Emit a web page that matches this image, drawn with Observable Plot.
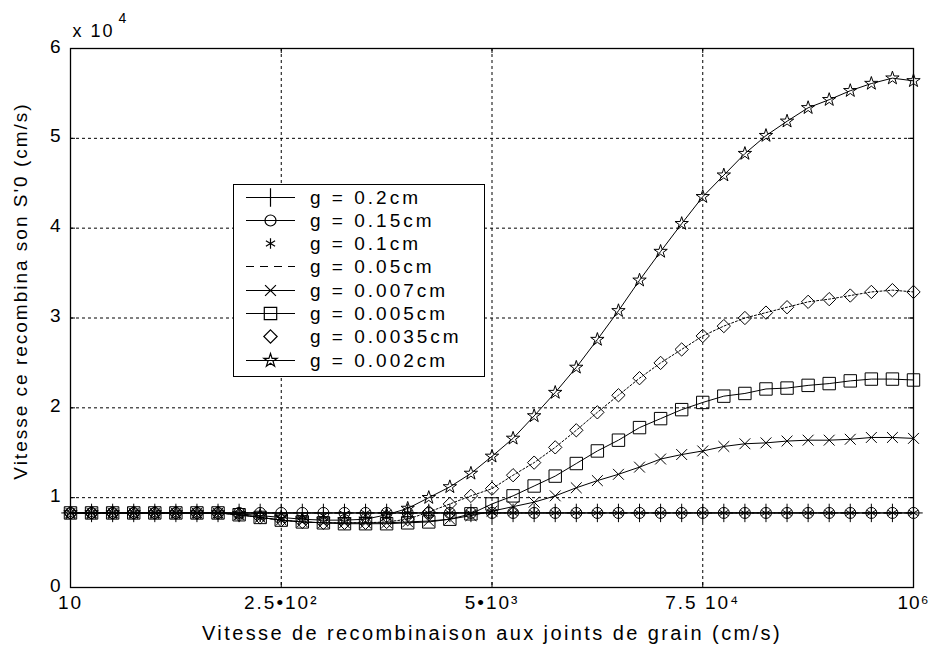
<!DOCTYPE html>
<html><head><meta charset="utf-8">
<script src="https://cdn.jsdelivr.net/npm/d3@7"></script>
<script src="https://cdn.jsdelivr.net/npm/@observablehq/plot@0.6"></script>
<style>
body{margin:0;background:#fff;}
#wrap{position:relative;width:929px;height:646px;font-family:"Liberation Sans",Arial,sans-serif;}
#wrap svg text{letter-spacing:2px;}
#legend{position:absolute;left:233px;top:184px;width:252px;height:193px;border:1.3px solid #000;background:#fff;box-sizing:border-box;}
.row{position:absolute;left:0;height:23px;width:250px;}
.row svg{position:absolute;left:0;top:0;}
.row span{position:absolute;left:76px;top:0;line-height:23px;font-size:19px;letter-spacing:3px;white-space:nowrap;color:#000;}
</style>
</head><body>
<div id="wrap"></div>
<script>
// x positions (sample index) and tick labels
const xIndex = [0,1,2,3,4,5,6,7,8,9,10,11,12,13,14,15,16,17,18,19,20,21,22,23,24,25,26,27,28,29,30,31,32,33,34,35,36,37,38,39,40];
const xTickPos = [0,10,20,30,40];
const xTickLabels = ["10","2.5•10²","5•10³","7.5 10⁴","10⁶"];
const yTicks = [0,1,2,3,4,5,6];
const gLabels = ["g = 0.2cm","g = 0.15cm","g = 0.1cm","g = 0.05cm","g = 0.007cm","g = 0.005cm","g = 0.0035cm","g = 0.002cm"];

// S'0 values (x 10^4 cm/s)
const g020 = [0.83,0.83,0.83,0.83,0.83,0.83,0.83,0.83,0.83,0.83,0.83,0.83,0.83,0.83,0.83,0.83,0.83,0.83,0.83,0.83,0.83,0.83,0.83,0.83,0.83,0.83,0.83,0.83,0.83,0.83,0.83,0.83,0.83,0.83,0.83,0.83,0.83,0.83,0.83,0.83,0.83];
const g015 = [0.83,0.83,0.83,0.83,0.83,0.83,0.83,0.83,0.83,0.83,0.83,0.83,0.83,0.83,0.83,0.83,0.83,0.83,0.83,0.83,0.83,0.83,0.83,0.83,0.83,0.83,0.83,0.83,0.83,0.83,0.83,0.83,0.83,0.83,0.83,0.83,0.83,0.83,0.83,0.83,0.83];
const g010 = [0.83,0.83,0.83,0.83,0.83,0.83,0.83,0.83,0.81,0.79,0.77,0.78,0.80,0.82,0.83,0.83,0.83,0.83,0.83,0.83,0.83,0.83,0.83,0.83,0.83,0.83,0.83,0.83,0.83,0.83,0.83,0.83,0.83,0.83,0.83,0.83,0.83,0.83,0.83,0.83,0.83];
const g005 = [0.83,0.83,0.83,0.83,0.83,0.83,0.83,0.83,0.83,0.83,0.83,0.83,0.83,0.83,0.83,0.83,0.83,0.83,0.83,0.83,0.83,0.83,0.83,0.83,0.83,0.83,0.83,0.83,0.83,0.83,0.83,0.83,0.83,0.83,0.83,0.83,0.83,0.83,0.83,0.83,0.83];
const g0007 = [0.83,0.83,0.83,0.83,0.83,0.83,0.83,0.83,0.81,0.78,0.75,0.73,0.72,0.72,0.72,0.72,0.73,0.74,0.76,0.80,0.85,0.90,0.95,1.02,1.11,1.19,1.26,1.34,1.43,1.48,1.52,1.57,1.60,1.61,1.63,1.64,1.64,1.65,1.67,1.67,1.66];
const g0005 = [0.83,0.83,0.83,0.83,0.83,0.83,0.83,0.83,0.81,0.78,0.75,0.73,0.72,0.71,0.71,0.71,0.72,0.73,0.76,0.82,0.93,1.02,1.13,1.24,1.38,1.52,1.64,1.78,1.88,1.98,2.06,2.13,2.16,2.21,2.22,2.25,2.27,2.30,2.32,2.32,2.31];
const g00035 = [0.83,0.83,0.83,0.83,0.83,0.83,0.83,0.83,0.81,0.78,0.75,0.73,0.72,0.72,0.72,0.73,0.76,0.84,0.93,1.02,1.10,1.25,1.39,1.56,1.75,1.95,2.14,2.33,2.50,2.65,2.80,2.91,3.00,3.06,3.12,3.18,3.21,3.25,3.29,3.31,3.29];
const g0002 = [0.83,0.83,0.83,0.83,0.83,0.83,0.83,0.83,0.82,0.80,0.78,0.76,0.75,0.75,0.76,0.81,0.88,1.00,1.12,1.27,1.46,1.66,1.91,2.17,2.45,2.76,3.08,3.42,3.74,4.05,4.35,4.59,4.83,5.03,5.19,5.34,5.43,5.53,5.61,5.67,5.64];

const seriesValues = [g020,g015,g010,g005,g0007,g0005,g00035,g0002];

// styles (not data)
const styles = [
  {sym:"plus", r:6, line:"solid", legendLine:"solid"},
  {sym:"circle", r:5.5, line:"solid", legendLine:"solid"},
  {sym:"asterisk", r:5, line:"none", legendLine:"none"},
  {sym:null, r:0, line:"dashed", legendLine:"dashed"},
  {sym:"times", r:5, line:"solid", legendLine:"solid"},
  {sym:"square", r:7, line:"solid", legendLine:"solid"},
  {sym:"diamond2", r:6, line:"dotted", legendLine:"none"},
  {sym:"star", r:4.2, line:"solid", legendLine:"solid"}
];
const dashOf = {solid:null, dashed:"6,5", dotted:"2,2"};

const marks = [];
marks.push(Plot.gridX(xTickPos, {x:d=>d, stroke:"#000", strokeOpacity:1, strokeDasharray:"3,3", strokeWidth:1}));
marks.push(Plot.gridY(yTicks.filter(d=>d>0 && d<6), {y:d=>d, stroke:"#000", strokeOpacity:1, strokeDasharray:"3,3", strokeWidth:1}));
// inward ticks
marks.push(Plot.tickX(xTickPos, {x:d=>d, stroke:"#000", insetTop:534}));
marks.push(Plot.tickX(xTickPos, {x:d=>d, stroke:"#000", insetBottom:534}));
marks.push(Plot.tickY(yTicks, {y:d=>d, stroke:"#000", insetRight:838}));
marks.push(Plot.tickY(yTicks, {y:d=>d, stroke:"#000", insetLeft:838}));

seriesValues.forEach((vals, k) => {
  const st = styles[k];
  const rows = xIndex.map((x,i) => ({x, y: vals[i]}));
  if (st.line !== "none") {
    marks.push(Plot.line(rows, {x:"x", y:"y", stroke:"#000", strokeWidth:1, strokeDasharray: dashOf[st.line]}));
  }
  if (st.sym) {
    marks.push(Plot.dot(rows, {x:"x", y:"y", symbol: st.sym, r: st.r, stroke:"#000", fill:"none", strokeWidth:1}));
  }
});

marks.push(Plot.frame({stroke:"#000", strokeWidth:1.3}));
const labelMap = new Map(xTickPos.map((p,i)=>[p, xTickLabels[i]]));
marks.push(Plot.axisX(xTickPos, {tickSize:0, tickPadding:8, tickFormat:d=>labelMap.get(d), label:null, fontSize:19}));
marks.push(Plot.axisY(yTicks, {tickSize:0, tickPadding:8, tickFormat:d=>String(d), label:null, fontSize:19, dy:-2}));
marks.push(Plot.text(["Vitesse de recombinaison aux joints de grain (cm/s)"], {text:d=>d, frameAnchor:"bottom", dy:46, lineAnchor:"middle", fontSize:20}));
marks.push(Plot.text(["Vitesse ce recombina son S'0 (cm/s)"], {text:d=>d, frameAnchor:"left", textAnchor:"middle", dx:-50, dy:-27, rotate:-90, lineAnchor:"middle", fontSize:19}));
marks.push(Plot.text(["x 10"], {text:d=>d, frameAnchor:"top-left", textAnchor:"start", dx:2, dy:-17, lineAnchor:"middle", fontSize:18}));
marks.push(Plot.text(["4"], {text:d=>d, frameAnchor:"top-left", textAnchor:"start", dx:48, dy:-30, lineAnchor:"middle", fontSize:14}));

const chart = Plot.plot({
  width:929, height:646,
  marginLeft:70, marginRight:16, marginTop:48, marginBottom:59,
  x:{domain:[0,40]},
  y:{domain:[0,6]},
  style:{fontFamily:"Liberation Sans, Arial, sans-serif", fontSize:"19px", color:"#000", background:"#fff", overflow:"visible"},
  marks
});
const wrap = document.getElementById("wrap");
wrap.appendChild(chart);
// x label a bit wider, like the reference
d3.select(chart).selectAll("text").filter(function(){return this.textContent.startsWith("Vitesse de");}).style("letter-spacing","2.4px");
d3.select(chart).selectAll("text").filter(function(){return this.textContent === "10⁶";}).style("letter-spacing","1px");

// legend overlay
const legend = document.createElement("div");
legend.id = "legend";
wrap.appendChild(legend);
const symMap = {plus:d3.symbolPlus, circle:d3.symbolCircle, asterisk:d3.symbolAsterisk, times:d3.symbolTimes, square:d3.symbolSquare, diamond2:d3.symbolDiamond2, star:d3.symbolStar};
gLabels.forEach((lab, k) => {
  const st = styles[k];
  const row = document.createElement("div");
  row.className = "row";
  row.style.top = (0.5 + 23.3*k) + "px";
  const svg = d3.create("svg").attr("width",75).attr("height",23);
  if (st.legendLine !== "none") {
    svg.append("line").attr("x1",12).attr("x2",61).attr("y1",11.5).attr("y2",11.5)
      .attr("stroke","#000").attr("stroke-width",1.2)
      .attr("stroke-dasharray", st.legendLine==="dashed" ? "8,6" : null);
  }
  if (st.sym) {
    svg.append("path").attr("transform","translate(36.5,11.5)")
      .attr("d", d3.symbol(symMap[st.sym], Math.PI*st.r*st.r)())
      .attr("fill","none").attr("stroke","#000").attr("stroke-width",1.2);
  }
  row.appendChild(svg.node());
  const span = document.createElement("span");
  span.textContent = lab;
  row.appendChild(span);
  legend.appendChild(row);
});
</script>
</body></html>
